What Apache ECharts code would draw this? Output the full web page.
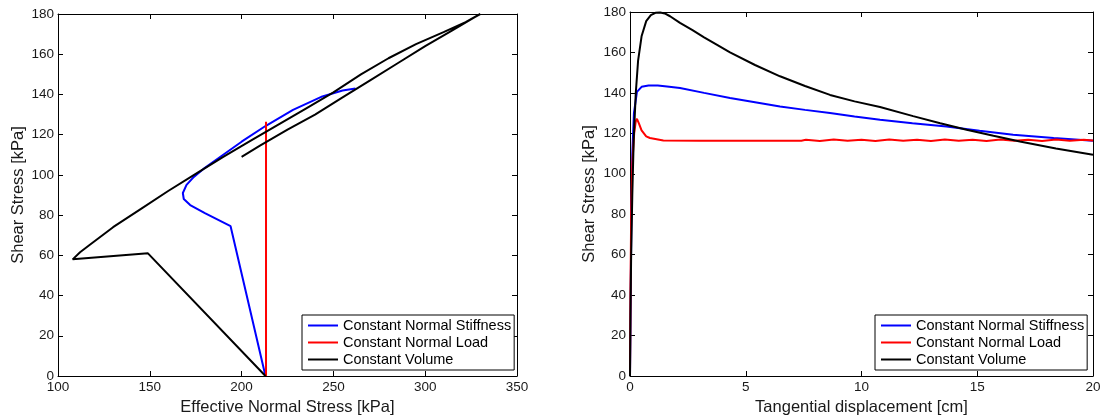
<!DOCTYPE html>
<html>
<head>
<meta charset="utf-8">
<script src="https://cdn.jsdelivr.net/npm/echarts@6/dist/echarts.min.js"></script>
<style>
html,body{margin:0;padding:0;background:#fff;}
#chart{width:1111px;height:420px;}
</style>
</head>
<body>
<div id="chart"></div>
<script>
// ---- Data ----
const seriesNames = ['Constant Normal Stiffness', 'Constant Normal Load', 'Constant Volume'];

// Left panel: shear stress vs effective normal stress [kPa]
const cnsStressPath = [[213,0],[194,74.5],[180,81],[172,85],[168.5,88],[168,91],[170,95],[174,99],[180,103.5],[190,110],[200,116.5],[213,124.3],[228,132.3],[244,139],[255,142],[262,143]];
const cnlStressPath = [[213.3,0],[213.3,60],[213.3,126.4]];
const cvStressPath = [[213,0],[149,61],[108,58],[112,61.5],[117,65],[130,74],[145,83],[160,92],[175,100.5],[190,109],[205,117],[220,125],[235,133],[250,141],[265,150],[280,158],[295,165],[310,171],[322,176],[330,180],[315,172],[300,164],[285,155.5],[270,147],[255,138.5],[240,130],[225,122.5],[210,114.5],[200,109]];

// Right panel: shear stress vs tangential displacement [cm]
const cnsDisp = [[0,0],[0.03,40],[0.06,80],[0.1,110],[0.17,130],[0.3,140.5],[0.5,143],[0.8,143.6],[1.2,143.6],[1.6,143.2],[2.16,142.4],[3.2,140],[4.32,137.5],[5.4,135.4],[6.48,133.3],[7.56,131.6],[8.64,130],[9.7,128.3],[10.8,126.7],[12.2,125],[13.67,123.4],[15.1,121.3],[16.55,119.3],[18.3,117.7],[20,116.3]];
const cnlDisp = [[0,0],[0.02,40],[0.05,80],[0.1,105],[0.18,120],[0.25,126],[0.3,127.2],[0.38,125],[0.5,121.5],[0.7,118.5],[0.86,117.7],[1.44,116.5],[3,116.3],[5,116.3],[7.4,116.3],[7.6,116.8],[8.2,116.2],[8.8,116.9],[9.4,116.3],[10,116.8],[10.6,116.2],[11.2,116.9],[11.8,116.3],[12.4,116.8],[13,116.2],[13.6,116.9],[14.2,116.3],[14.8,116.8],[15.4,116.2],[16,116.9],[16.6,116.3],[17.2,116.8],[17.8,116.2],[18.4,116.9],[19,116.3],[19.6,116.8],[20,116.4]];
const cvDisp = [[0,0],[0.02,30],[0.05,60],[0.1,90],[0.16,117],[0.25,140],[0.35,156],[0.5,168],[0.7,175.5],[0.9,178.5],[1.1,179.6],[1.3,179.8],[1.5,179.3],[1.73,177.9],[2.16,174.6],[2.7,171],[3.2,167.5],[3.8,163.5],[4.32,160],[5.4,153.8],[6.48,148.2],[7.56,143.4],[8.64,139],[9.7,135.8],[10.8,133],[12.23,128.5],[13.4,125],[14.54,121.8],[15.7,118.8],[16.84,116],[18.4,112.5],[20,109.4]];

// Axis ticks
const leftXTicks = {min:100, max:350, interval:50};
const rightXTicks = {min:0, max:20, interval:5};
const yTicks = {min:0, max:180, interval:20};

const colors = ['#0000ff', '#ff0000', '#000000'];
const FONT = 'Liberation Sans, Arial, Helvetica, sans-serif';

function axis(opts, ticks, showLabel, extra) {
  return Object.assign({
    type: 'value',
    min: ticks.min, max: ticks.max, interval: ticks.interval,
    axisLine: {show: true, onZero: false, lineStyle: {color: '#000', width: 1}},
    axisTick: {show: true, inside: true, length: 5, lineStyle: {color: '#000', width: 1}},
    splitLine: {show: false},
    axisLabel: {show: showLabel, color: '#1a1a1a', fontSize: 13.5, fontFamily: FONT, margin: 4},
    nameTextStyle: {color: '#1a1a1a', fontSize: 16.5, fontFamily: FONT},
  }, opts, extra || {});
}

function lineSeries(name, data, idx, colorIdx) {
  return {
    type: 'line', name: name, data: data,
    xAxisIndex: idx, yAxisIndex: idx,
    showSymbol: false, symbol: 'none',
    color: colors[colorIdx],
    lineStyle: {color: colors[colorIdx], width: 2},
    animation: false, silent: true
  };
}

function legend(left) {
  return {
    left: left, top: 315, orient: 'vertical',
    data: seriesNames,
    selectedMode: false,
    icon: 'rect', itemWidth: 30, itemHeight: 2, itemGap: 2,
    borderColor: '#000', borderWidth: 1, backgroundColor: '#fff', borderRadius: 0,
    padding: [3, 3, 3, 6],
    textStyle: {color: '#000', fontSize: 14.5, fontFamily: FONT, lineHeight: 15}
  };
}

const chart = echarts.init(document.getElementById('chart'), null, {renderer: 'canvas'});
chart.setOption({
  animation: false,
  backgroundColor: '#fff',
  grid: [
    {left: 58, top: 14, width: 459, height: 362, outerBoundsMode: 'none', containLabel: false},
    {left: 630, top: 12, width: 463, height: 364, outerBoundsMode: 'none', containLabel: false}
  ],
  xAxis: [
    axis({gridIndex: 0, position: 'bottom', name: 'Effective Normal Stress [kPa]', nameLocation: 'middle', nameGap: 20}, leftXTicks, true),
    axis({gridIndex: 0, position: 'top'}, leftXTicks, false),
    axis({gridIndex: 1, position: 'bottom', name: 'Tangential displacement [cm]', nameLocation: 'middle', nameGap: 20}, rightXTicks, true),
    axis({gridIndex: 1, position: 'top'}, rightXTicks, false)
  ],
  yAxis: [
    axis({gridIndex: 0, position: 'left', name: 'Shear Stress [kPa]', nameLocation: 'middle', nameGap: 31}, yTicks, true),
    axis({gridIndex: 0, position: 'right'}, yTicks, false),
    axis({gridIndex: 1, position: 'left', name: 'Shear Stress [kPa]', nameLocation: 'middle', nameGap: 32}, yTicks, true),
    axis({gridIndex: 1, position: 'right'}, yTicks, false)
  ],
  legend: [legend(302), legend(875)],
  series: [
    lineSeries(seriesNames[0], cnsStressPath, 0, 0),
    lineSeries(seriesNames[1], cnlStressPath, 0, 1),
    lineSeries(seriesNames[2], cvStressPath, 0, 2),
    lineSeries(seriesNames[0], cnsDisp, 2, 0),
    lineSeries(seriesNames[1], cnlDisp, 2, 1),
    lineSeries(seriesNames[2], cvDisp, 2, 2)
  ]
});
</script>
</body>
</html>
